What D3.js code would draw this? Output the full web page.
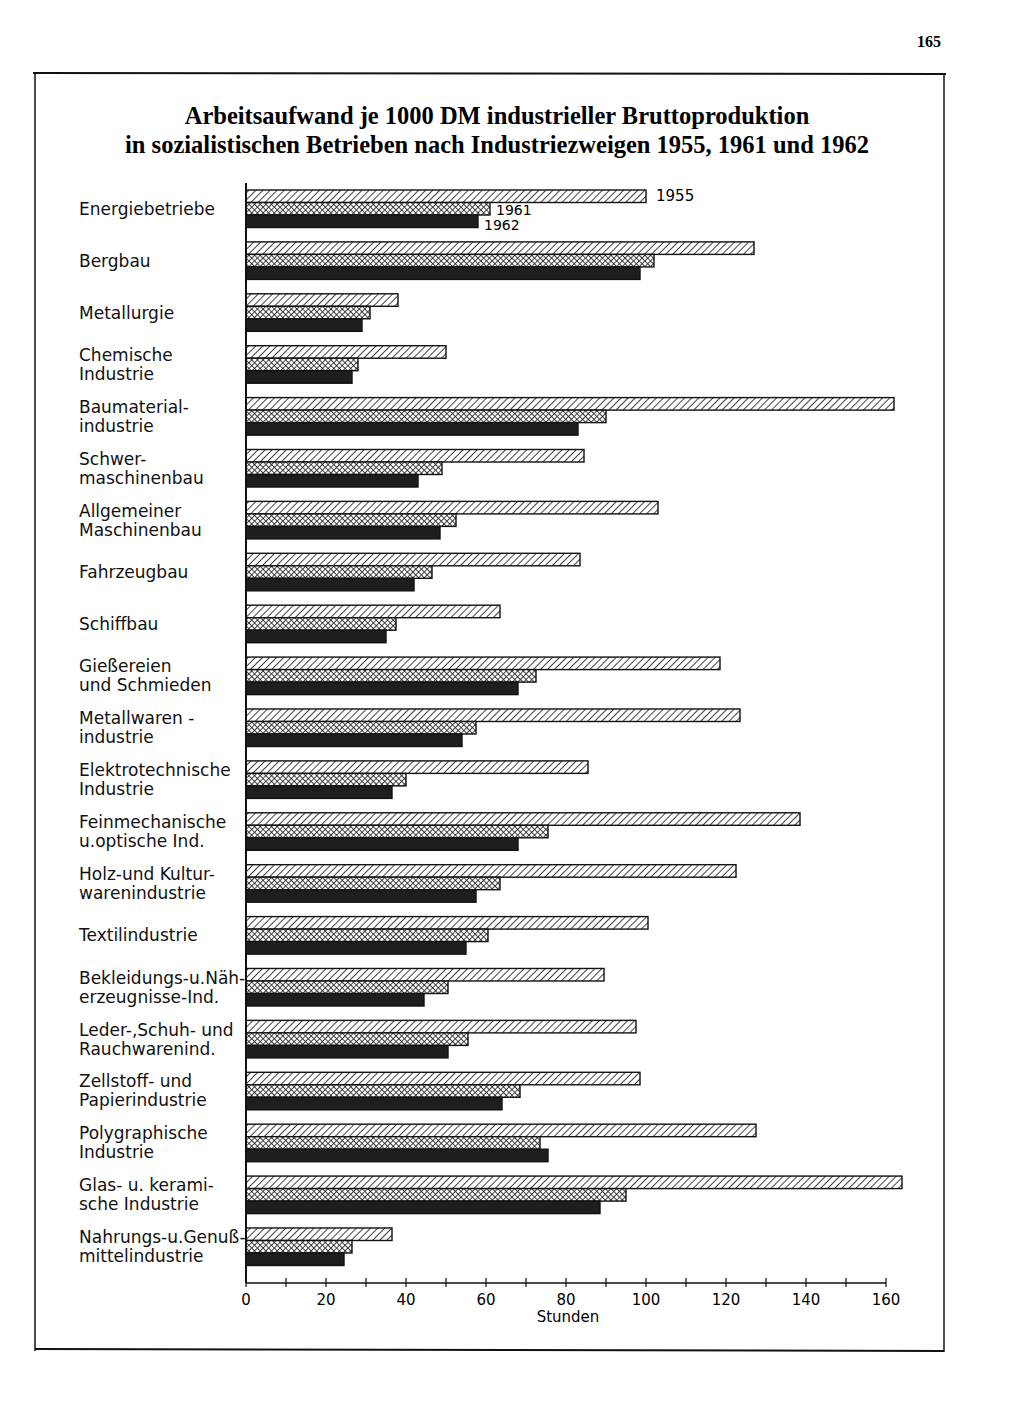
<!DOCTYPE html>
<html><head><meta charset="utf-8">
<script src="https://cdn.jsdelivr.net/npm/d3@7"></script>
<style>body{margin:0;background:#fff}svg{display:block}</style>
</head><body>
<script>
const categories = [
  ["Energiebetriebe"],
  ["Bergbau"],
  ["Metallurgie"],
  ["Chemische","Industrie"],
  ["Baumaterial-","industrie"],
  ["Schwer-","maschinenbau"],
  ["Allgemeiner","Maschinenbau"],
  ["Fahrzeugbau"],
  ["Schiffbau"],
  ["Gießereien","und Schmieden"],
  ["Metallwaren -","industrie"],
  ["Elektrotechnische","Industrie"],
  ["Feinmechanische","u.optische Ind."],
  ["Holz-und Kultur-","warenindustrie"],
  ["Textilindustrie"],
  ["Bekleidungs-u.Näh-","erzeugnisse-Ind."],
  ["Leder-,Schuh- und","Rauchwarenind."],
  ["Zellstoff- und","Papierindustrie"],
  ["Polygraphische","Industrie"],
  ["Glas- u. kerami-","sche Industrie"],
  ["Nahrungs-u.Genuß-","mittelindustrie"]
];
const years = ["1955","1961","1962"];
const v1955 = [100,127,38,50,162,84.5,103,83.5,63.5,118.5,123.5,85.5,138.5,122.5,100.5,89.5,97.5,98.5,127.5,164,36.5];
const v1961 = [61,102,31,28,90,49,52.5,46.5,37.5,72.5,57.5,40,75.5,63.5,60.5,50.5,55.5,68.5,73.5,95,26.5];
const v1962 = [58,98.5,29,26.5,83,43,48.5,42,35,68,54,36.5,68,57.5,55,44.5,50.5,64,75.5,88.5,24.5];
const xTicks = d3.range(0,161,10);
const xLabels = d3.range(0,161,20);
const titleLines = ["Arbeitsaufwand je 1000 DM industrieller Bruttoproduktion",
                    "in sozialistischen Betrieben nach Industriezweigen 1955, 1961 und 1962"];
const unitLabel = "Stunden";
const pageNumber = "165";

const series = [v1955, v1961, v1962];
const W = 1024, H = 1424;
const svg = d3.select("body").append("svg").attr("width",W).attr("height",H);

const defs = svg.append("defs");
const hatch = defs.append("pattern").attr("id","hatch").attr("patternUnits","userSpaceOnUse")
  .attr("width",5).attr("height",5).attr("patternTransform","rotate(45)");
hatch.append("rect").attr("width",5).attr("height",5).attr("fill","#fff");
hatch.append("line").attr("x1",0).attr("y1",0).attr("x2",0).attr("y2",5).attr("stroke","#111").attr("stroke-width",1.6);
const cross = defs.append("pattern").attr("id","cross").attr("patternUnits","userSpaceOnUse")
  .attr("width",4).attr("height",4).attr("patternTransform","rotate(45)");
cross.append("rect").attr("width",4).attr("height",4).attr("fill","#fff");
cross.append("line").attr("x1",0).attr("y1",0).attr("x2",0).attr("y2",4).attr("stroke","#222").attr("stroke-width",1.7);
cross.append("line").attr("x1",0).attr("y1",0).attr("x2",4).attr("y2",0).attr("stroke","#222").attr("stroke-width",1.7);
const fills = ["url(#hatch)","url(#cross)","#1e1e1e"];

// frame
const fr = svg.append("g").attr("stroke","#111").attr("fill","none");
fr.append("line").attr("x1",33).attr("x2",946).attr("y1",73).attr("y2",74).attr("stroke-width",2);
fr.append("line").attr("x1",35).attr("x2",35).attr("y1",73).attr("y2",1351).attr("stroke-width",1.5);
fr.append("line").attr("x1",944).attr("x2",944).attr("y1",73).attr("y2",1352).attr("stroke-width",1.5);
fr.append("line").attr("x1",35).attr("x2",944).attr("y1",1349).attr("y2",1351).attr("stroke-width",2);

svg.append("text").attr("x",941).attr("y",47).attr("text-anchor","end")
  .attr("font-family","Liberation Serif").attr("font-weight","bold").attr("font-size",16).text(pageNumber);

svg.append("g").selectAll("text").data(titleLines).join("text")
  .attr("x",497).attr("y",(d,i)=>124+i*29).attr("text-anchor","middle")
  .attr("font-family","Liberation Serif").attr("font-weight","bold").attr("font-size",24.5)
  .text(d=>d);

const x = d3.scaleLinear().domain([0,160]).range([246,886]);
const y = d3.scaleBand().domain(d3.range(categories.length)).range([190,1265.5]).paddingInner(0.277).paddingOuter(0);
const yi = d3.scaleBand().domain(years).range([0,y.bandwidth()]);

const g = svg.append("g");
categories.forEach((c,i)=>{
  years.forEach((yr,k)=>{
    g.append("rect").attr("x",x(0)).attr("y",y(i)+yi(yr)).attr("width",x(series[k][i])-x(0))
      .attr("height",yi.bandwidth()).attr("fill",fills[k]).attr("stroke","#111").attr("stroke-width",1.4);
  });
  const cy = y(i)+y.bandwidth()/2;
  const lines = c;
  const t = svg.append("text").attr("font-family","DejaVu Sans").attr("font-size",17).attr("fill","#111");
  lines.forEach((ln,j)=>{
    t.append("tspan").attr("x",79).attr("y",cy + (j-(lines.length-1)/2)*19).attr("dy","0.35em").text(ln);
  });
});

// year annotations on first group
const ann = [{k:0,dx:10,fs:15,off:-1},{k:1,dx:6,fs:14,off:1},{k:2,dx:6,fs:14,off:4}];
ann.forEach(a=>{
  svg.append("text").attr("x",x(series[a.k][0])+a.dx).attr("y",y(0)+yi(years[a.k])+yi.bandwidth()/2 + a.off).attr("dy","0.35em")
    .attr("font-family","DejaVu Sans").attr("font-size",a.fs).text(years[a.k]);
});

// axes
svg.append("line").attr("x1",x(0)).attr("x2",x(0)).attr("y1",183).attr("y2",1283).attr("stroke","#111").attr("stroke-width",2);
const axis = svg.append("g").attr("transform","translate(0,1283)");
axis.append("line").attr("x1",x(0)).attr("x2",x(160)).attr("stroke","#111").attr("stroke-width",1.5);
axis.selectAll("line.t").data(xTicks).join("line").attr("class","t")
  .attr("x1",d=>x(d)).attr("x2",d=>x(d)).attr("y1",-5).attr("y2",4).attr("stroke","#111").attr("stroke-width",1.2);
axis.selectAll("text").data(xLabels).join("text").attr("x",d=>x(d)).attr("y",22)
  .attr("text-anchor","middle").attr("font-family","DejaVu Sans").attr("font-size",15).text(d=>d);
svg.append("text").attr("x",568).attr("y",1322).attr("text-anchor","middle")
  .attr("font-family","DejaVu Sans").attr("font-size",15).text(unitLabel);
</script>
</body></html>
